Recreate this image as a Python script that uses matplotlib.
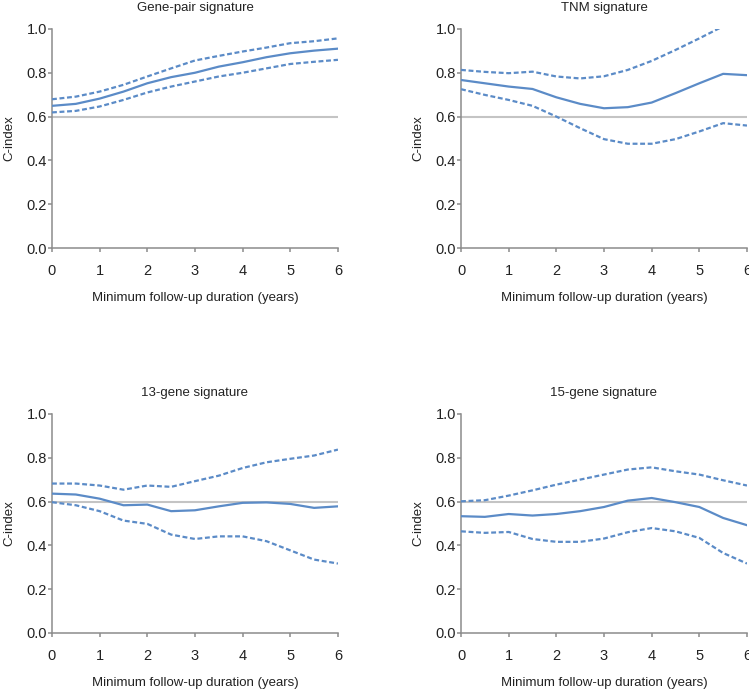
import numpy as np
from matplotlib import pyplot as plt

plt.rcParams['font.family'] = ['Liberation Sans', 'DejaVu Sans']

years = [0, 0.5, 1, 1.5, 2, 2.5, 3, 3.5, 4, 4.5, 5, 5.5, 6]

titles = ['Gene-pair signature', 'TNM signature', '13-gene signature', '15-gene signature']

# C-index estimates and 95% CI bounds
genepair_c = [0.649, 0.658, 0.682, 0.714, 0.752, 0.780, 0.800, 0.828, 0.848, 0.871, 0.889, 0.901, 0.910]
genepair_hi = [0.679, 0.691, 0.714, 0.745, 0.783, 0.820, 0.856, 0.877, 0.897, 0.915, 0.935, 0.944, 0.957]
genepair_lo = [0.619, 0.626, 0.646, 0.676, 0.710, 0.737, 0.760, 0.783, 0.800, 0.820, 0.840, 0.850, 0.859]

tnm_c = [0.767, 0.752, 0.737, 0.726, 0.688, 0.658, 0.638, 0.643, 0.664, 0.707, 0.752, 0.795, 0.789]
tnm_hi = [0.813, 0.804, 0.798, 0.805, 0.783, 0.774, 0.784, 0.813, 0.854, 0.904, 0.957, 1.012, 1.05]
tnm_lo = [0.725, 0.699, 0.676, 0.649, 0.600, 0.547, 0.497, 0.476, 0.476, 0.497, 0.532, 0.570, 0.559]

gene13_c = [0.636, 0.632, 0.613, 0.583, 0.586, 0.556, 0.560, 0.578, 0.594, 0.596, 0.589, 0.571, 0.578]
gene13_hi = [0.682, 0.682, 0.673, 0.654, 0.673, 0.667, 0.693, 0.718, 0.753, 0.779, 0.795, 0.810, 0.837]
gene13_lo = [0.597, 0.583, 0.556, 0.513, 0.498, 0.449, 0.429, 0.441, 0.441, 0.419, 0.377, 0.335, 0.317]

gene15_c = [0.533, 0.530, 0.543, 0.536, 0.543, 0.556, 0.575, 0.604, 0.616, 0.597, 0.575, 0.525, 0.492]
gene15_hi = [0.601, 0.606, 0.627, 0.651, 0.677, 0.700, 0.723, 0.746, 0.756, 0.738, 0.723, 0.697, 0.673]
gene15_lo = [0.464, 0.457, 0.461, 0.429, 0.416, 0.416, 0.431, 0.460, 0.479, 0.464, 0.434, 0.365, 0.317]

panels = [(genepair_c, genepair_hi, genepair_lo),
          (tnm_c, tnm_hi, tnm_lo),
          (gene13_c, gene13_hi, gene13_lo),
          (gene15_c, gene15_hi, gene15_lo)]

ref_line = 0.6
blue = '#5b8bc7'
grey = '#8c8c8c'
txt = '#222222'

positions = [[0.0694, 0.640, 0.3818, 0.318],
             [0.6155, 0.640, 0.3818, 0.318],
             [0.0694, 0.0813, 0.3818, 0.318],
             [0.6155, 0.0813, 0.3818, 0.318]]

fig = plt.figure(figsize=(7.49, 6.89), dpi=100)
for idx, (c, hi, lo) in enumerate(panels):
	ax = fig.add_axes(positions[idx])
	ax.plot([0, 6], [ref_line, ref_line], color='#c4c4c4', lw=1.5, zorder=1)
	ax.plot(years, c, color=blue, lw=1.6, zorder=3)
	ax.plot(years, hi, color=blue, lw=1.6, linestyle=(0, (2.2, 1.2)), zorder=3)
	ax.plot(years, lo, color=blue, lw=1.6, linestyle=(0, (2.2, 1.2)), zorder=3)
	ax.set_xlim(0, 6)
	ax.set_ylim(0, 1.0)
	ax.set_xticks(range(7))
	ax.set_yticks(np.arange(0, 1.01, 0.2))
	ax.set_yticklabels(['%.1f' % v for v in np.arange(0, 1.01, 0.2)])
	for side in ['top', 'right']:
		ax.spines[side].set_visible(False)
	for side in ['left', 'bottom']:
		ax.spines[side].set_color(grey)
		ax.spines[side].set_linewidth(1.1)
	ax.tick_params(colors=grey, labelcolor=txt, labelsize=10.5, length=3, width=1.1)
	ax.tick_params(axis='x', pad=8.8)
	ax.tick_params(axis='y', pad=0.5)
	ax.set_xlabel('Minimum follow-up duration (years)', fontsize=9.5, color=txt, labelpad=10)
	ax.set_ylabel('C-index', fontsize=9.5, color=txt, labelpad=8)
	ax.set_title(titles[idx], fontsize=9.5, color=txt, pad=13)

fig.savefig('out.png', dpi=100)
plt.close('all')
